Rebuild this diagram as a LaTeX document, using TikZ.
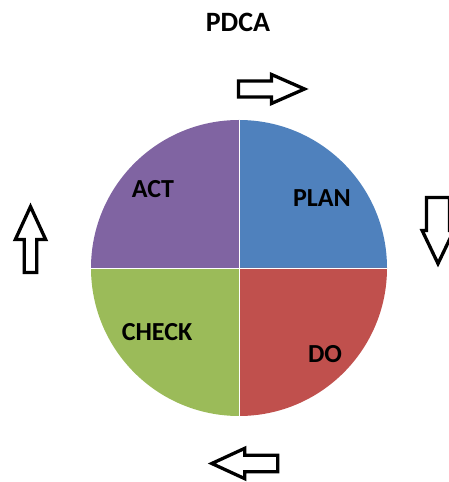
\documentclass[tikz,border=0pt]{standalone}
\usepackage{fontspec}
\setmainfont{Carlito}

\definecolor{planblue}{HTML}{4F81BD}
\definecolor{dored}{HTML}{C0504D}
\definecolor{checkgreen}{HTML}{9BBB59}
\definecolor{actpurple}{HTML}{8064A2}

\tikzset{
  phase/.style={font=\fontsize{26}{30}\selectfont\bfseries, inner sep=0pt},
  % hollow block arrow pointing east: #1 half shaft, #2 half head
  pics/turnarrow/.style 2 args={code={
    \draw[line width=3.3pt, fill=white, line join=miter]
      (-33,-#1) -- (0,-#1) -- (0,-#2) -- (33,0) -- (0,#2) -- (0,#1) -- (-33,#1) -- cycle;
  }}
}

\begin{document}
\begin{tikzpicture}[x=1pt, y=1pt]
      \useasboundingbox (0,0) rectangle (448,482);
      \coordinate (c) at (239,214);

      % the four quarters
      \fill[planblue]   (c) -- ++(0,148) arc (90:0:148) -- cycle;
      \fill[dored]      (c) -- ++(148,0) arc (0:-90:148) -- cycle;
      \fill[checkgreen] (c) -- ++(0,-148) arc (270:180:148) -- cycle;
      \fill[actpurple]  (c) -- ++(-148,0) arc (180:90:148) -- cycle;
      \draw[white, line width=.6pt] (c) -- ++(0,148) (c) -- ++(148,0)
            (c) -- ++(0,-148) (c) -- ++(-148,0);

      \node (title) at (238,460) {\fontsize{28}{32}\selectfont\bfseries PDCA};
      \node (plan)[phase] at (322,284) {PLAN};
      \node (do)[phase] at (325,128) {DO};
      \node (check)[phase] at (157,150) {CHECK};
      \node (act)[phase] at (153,293) {ACT};

      % arrows round the wheel
      \pic (toplan) at (271.5,393) {turnarrow={8}{14.5}};
      \pic (todo)[rotate=-90] at (438,251.4) {turnarrow={11.5}{15.8}};
      \pic (tocheck)[rotate=180] at (244.8,18.5) {turnarrow={8.2}{15.2}};
      \pic (toact)[rotate=90] at (30.5,242.4) {turnarrow={6.3}{15.2}};
    \end{tikzpicture}
\end{document}
